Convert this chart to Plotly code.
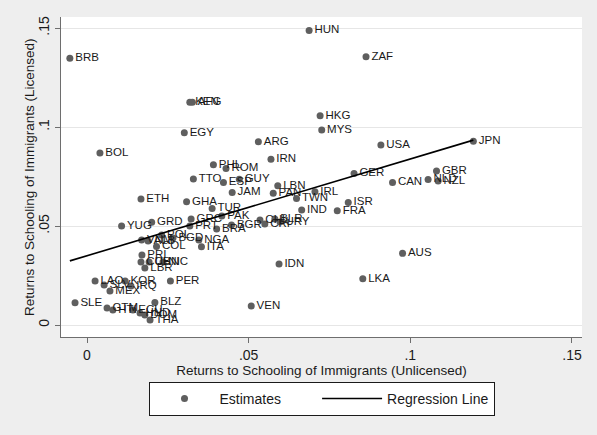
import plotly.graph_objects as go

countries = ["BRB","KEN","AFG","EGY","HUN","ZAF","HKG","MYS","ARG","USA","JPN","BOL",
             "IRN","PHL","ROM","TTO","ESP","GUY","JAM","GER","GBR","CAN","NLD","NZL",
             "LBN","PAN","IRL","TWN","ISR","IND","FRA","GHA","ETH","YUG","GRD","TUR",
             "GRC","PRT","PAK","BGR","BRA","CHL","BLR","CRI","URY","POL","VNM","ALB",
             "BGD","NGA","ITA","COL","PRI","CUB","CHN","NIC","LBR","PER","LAO","SLV",
             "KOR","IRQ","MEX","SLE","BLZ","GTM","HTI","ECU","HND","DOM","THA","IDN",
             "LKA","VEN","AUS"]
unlicensed = [-0.0053,0.0318,0.0326,0.0301,0.0687,0.0863,0.0721,0.0726,0.0530,0.0909,0.1195,0.0040,
              0.0569,0.0391,0.0430,0.0329,0.0422,0.0471,0.0449,0.0826,0.1081,0.0945,0.1055,0.1086,
              0.0590,0.0576,0.0705,0.0648,0.0808,0.0664,0.0774,0.0308,0.0167,0.0107,0.0200,0.0387,
              0.0322,0.0318,0.0417,0.0447,0.0401,0.0535,0.0581,0.0550,0.0597,0.0231,0.0169,0.0189,
              0.0266,0.0346,0.0354,0.0215,0.0170,0.0167,0.0192,0.0235,0.0179,0.0258,0.0025,0.0053,
              0.0118,0.0136,0.0071,-0.0037,0.0210,0.0062,0.0080,0.0142,0.0164,0.0179,0.0195,0.0594,
              0.0853,0.0508,0.0976]
licensed = [0.1348,0.1125,0.1125,0.0971,0.1488,0.1355,0.1057,0.0985,0.0926,0.0909,0.0928,0.0869,
            0.0838,0.0810,0.0791,0.0737,0.0720,0.0736,0.0670,0.0766,0.0778,0.0720,0.0735,0.0727,
            0.0704,0.0665,0.0673,0.0639,0.0619,0.0581,0.0577,0.0623,0.0636,0.0500,0.0519,0.0589,
            0.0535,0.0500,0.0551,0.0505,0.0485,0.0530,0.0535,0.0510,0.0520,0.0455,0.0429,0.0424,
            0.0439,0.0429,0.0395,0.0396,0.0354,0.0318,0.0318,0.0318,0.0288,0.0222,0.0222,0.0202,
            0.0222,0.0197,0.0172,0.0113,0.0114,0.0086,0.0076,0.0076,0.0061,0.0051,0.0025,0.0308,
            0.0234,0.0096,0.0362]

reg_x = [-0.0053, 0.1195]
reg_y = [0.0324, 0.0934]

tick_vals = [0, 0.05, 0.1, 0.15]
tick_text = ["0", ".05", ".1", ".15"]

FONT = "Liberation Sans, Arial, sans-serif"
NBSP = "\u00a0"

fig = go.Figure()
fig.add_trace(go.Scatter(
    x=unlicensed, y=licensed, text=countries, mode="markers+text",
    textposition="middle right", name="Estimates" + NBSP * 8,
    marker=dict(color="#5f5f5f", size=7, line=dict(width=0)),
    textfont=dict(family=FONT, size=11.5, color="#1a1a1a"),
    cliponaxis=False,
))
fig.add_trace(go.Scatter(
    x=reg_x, y=reg_y, mode="lines", name="Regression Line",
    line=dict(color="black", width=1.6),
))

fig.update_layout(
    width=597, height=435,
    margin=dict(l=61, r=15, t=17, b=98),
    paper_bgcolor="#eeeeee", plot_bgcolor="white",
    font=dict(family=FONT, size=13.5, color="#1a1a1a"),
    showlegend=True,
    legend=dict(orientation="h", x=0.5, xanchor="center", y=-0.1405, yanchor="top",
                bgcolor="white", bordercolor="#1a1a1a", borderwidth=1,
                font=dict(size=14), itemwidth=60),
    xaxis=dict(range=[-0.00804, 0.1531], tickvals=tick_vals, ticktext=tick_text,
               showgrid=False, zeroline=False, showline=True, linecolor="#6e6e6e",
               linewidth=1.2, ticks="outside", ticklen=5, tickcolor="#6e6e6e",
               tickfont=dict(size=14), automargin=False,
               title=dict(text="Returns to Schooling of Immigrants (Unlicensed)", standoff=2,
                          font=dict(size=13.5))),
    yaxis=dict(range=[-0.00606, 0.1556], tickvals=tick_vals, ticktext=tick_text,
               showgrid=True, gridcolor="#e6e6e6", gridwidth=1, zeroline=False,
               showline=True, linecolor="#6e6e6e", linewidth=1.2,
               ticks="outside", ticklen=5, tickcolor="#6e6e6e", tickangle=-90,
               tickfont=dict(size=14), automargin=False),
    annotations=[dict(text="Returns to Schooling of Immigrants (Licensed)",
                      xref="paper", yref="paper", x=-0.0614, y=0.5,
                      xanchor="center", yanchor="middle", textangle=-90,
                      showarrow=False, font=dict(size=13.5))],
)

fig.write_html("out.html",
               config={"displayModeBar": False},
               post_script="document.body.style.margin='0';document.body.style.background='#eeeeee';")
